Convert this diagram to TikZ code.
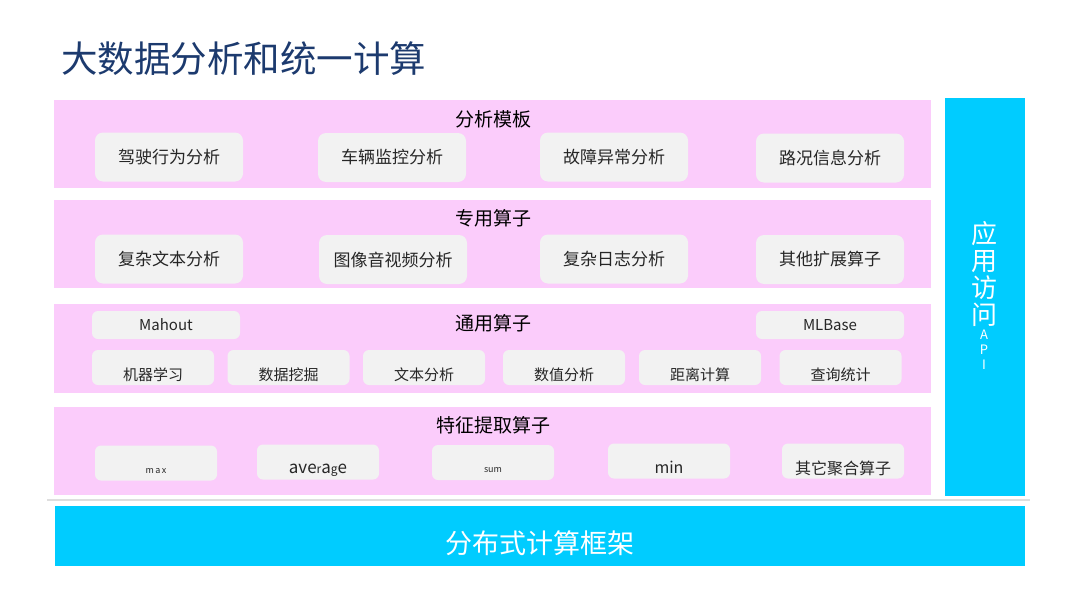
\documentclass[tikz,border=0pt]{standalone}
\usepackage{fontspec}
\setmainfont{Noto Sans CJK SC}
\usepackage{tikz}
\usetikzlibrary{positioning}
\definecolor{bandpink}{HTML}{FBCCFB}
\definecolor{cellgray}{HTML}{F2F2F2}
\definecolor{barcyan}{HTML}{00CCFF}
\definecolor{titlenavy}{HTML}{1C3A6E}
\definecolor{inkgray}{HTML}{262626}
\definecolor{rulegray}{HTML}{DEDEDE}

\begin{document}
\begin{tikzpicture}[x=1pt, y=-1pt]
                % band = pink layer, cell = grey box inside a layer, bar = cyan block
                \tikzstyle{every node}=[inner sep=0pt, text=inkgray]
                \tikzstyle{band}=[fill=bandpink, minimum width=877pt, minimum height=88pt]
                \tikzstyle{bandtitle}=[font=\fontsize{19}{19}\selectfont, text=black]
                \tikzstyle{cell}=[fill=cellgray, rounded corners=8pt, font=\fontsize{17}{17}\selectfont]
                \tikzstyle{bigcell}=[cell, minimum width=148pt, minimum height=49pt]
                \tikzstyle{smallcell}=[cell, rounded corners=6pt, minimum width=122pt, minimum height=35pt, text height=26pt, text depth=0pt]
                \tikzstyle{bar}=[fill=barcyan, text=white]
                \useasboundingbox (0,0) rectangle (1080,608);

                \node[anchor=west, text=titlenavy, font=\fontsize{36.5}{36.5}\selectfont] (title) at (61,59) {大数据分析和统一计算};

                % layers
                \node[band] (tmplband) at (492.5,144) {};
                \node[band] (specband) at (492.5,244) {};
                \node[band, minimum height=89pt] (commband) at (492.5,348.5) {};
                \node[band] (featband) at (492.5,451) {};

                \node[bandtitle] (tmpltitle) at (493,119) {分析模板};
                \node[bandtitle] (spectitle) at (493,218) {专用算子};
                \node[bandtitle] (commtitle) at (493,323) {通用算子};
                \node[bandtitle] (feattitle) at (493,425) {特征提取算子};

                % analysis templates
                \node[bigcell] (drive) at (169,157) {驾驶行为分析};
                \node[bigcell] (vehicle) at (392,157.5) {车辆监控分析};
                \node[bigcell] (fault) at (614,157) {故障异常分析};
                \node[bigcell] (road) at (830,158) {路况信息分析};

                % special operators
                \node[bigcell] (text) at (169,259) {复杂文本分析};
                \node[bigcell] (media) at (393,259.5) {图像音视频分析};
                \node[bigcell] (log) at (614,259) {复杂日志分析};
                \node[bigcell] (ext) at (830,259.5) {其他扩展算子};

                % common operators
                \node[cell, rounded corners=6pt, minimum width=148pt, minimum height=28pt, font=\fontsize{15}{15}\selectfont] (mahout) at (166,325) {Mahout};
                \node[cell, rounded corners=6pt, minimum width=148pt, minimum height=28pt, font=\fontsize{15}{15}\selectfont] (mlbase) at (830,325) {MLBase};
                \node[smallcell, font=\fontsize{15}{15}\selectfont] (ml) at (153,367.5) {机器学习};
                \node[smallcell, font=\fontsize{15}{15}\selectfont] (mining) at (288.5,367.5) {数据挖掘};
                \node[smallcell, font=\fontsize{15}{15}\selectfont] (textan) at (424,367.5) {文本分析};
                \node[smallcell, font=\fontsize{15}{15}\selectfont] (numeric) at (564,367.5) {数值分析};
                \node[smallcell, font=\fontsize{15}{15}\selectfont] (dist) at (700,367.5) {距离计算};
                \node[smallcell, font=\fontsize{15}{15}\selectfont] (query) at (840.5,367.5) {查询统计};

                % feature extraction operators
                \node[smallcell, font=\fontsize{9}{9}\selectfont, text height=20pt] (max) at (156,463) {m\,a\,x};
                \node[smallcell, font=\fontsize{17}{17}\selectfont, text height=22pt] (avg) at (318,462) {ave{\fontsize{12}{12}\selectfont r}a{\fontsize{12}{12}\selectfont g}e};
                \node[smallcell, font=\fontsize{9}{9}\selectfont, text height=20pt] (sum) at (493,462.5) {sum};
                \node[smallcell, font=\fontsize{16}{16}\selectfont, text height=24pt] (min) at (669,461) {min};
                \node[smallcell, font=\fontsize{16}{16}\selectfont] (agg) at (843,461) {其它聚合算子};

                % api and framework
                \node[bar, minimum width=80pt, minimum height=398pt] (apibar) at (985,297) {};
                \node[text=white, align=center, font=\fontsize{26}{27}\selectfont] (apiword) at (984,274) {应\\用\\访\\问};
                \node[text=white, align=center, font=\fontsize{13}{15}\selectfont, below=3pt of apiword] (apiabbr) {A\\P\\I};

                \draw[rulegray, line width=1.5pt] (47,500) -- (1030,500);
                \node[bar, minimum width=970pt, minimum height=60pt, font=\fontsize{27}{27}\selectfont, text height=35pt, text depth=0pt] (framework) at (540,536) {分布式计算框架};
\end{tikzpicture}
\end{document}
